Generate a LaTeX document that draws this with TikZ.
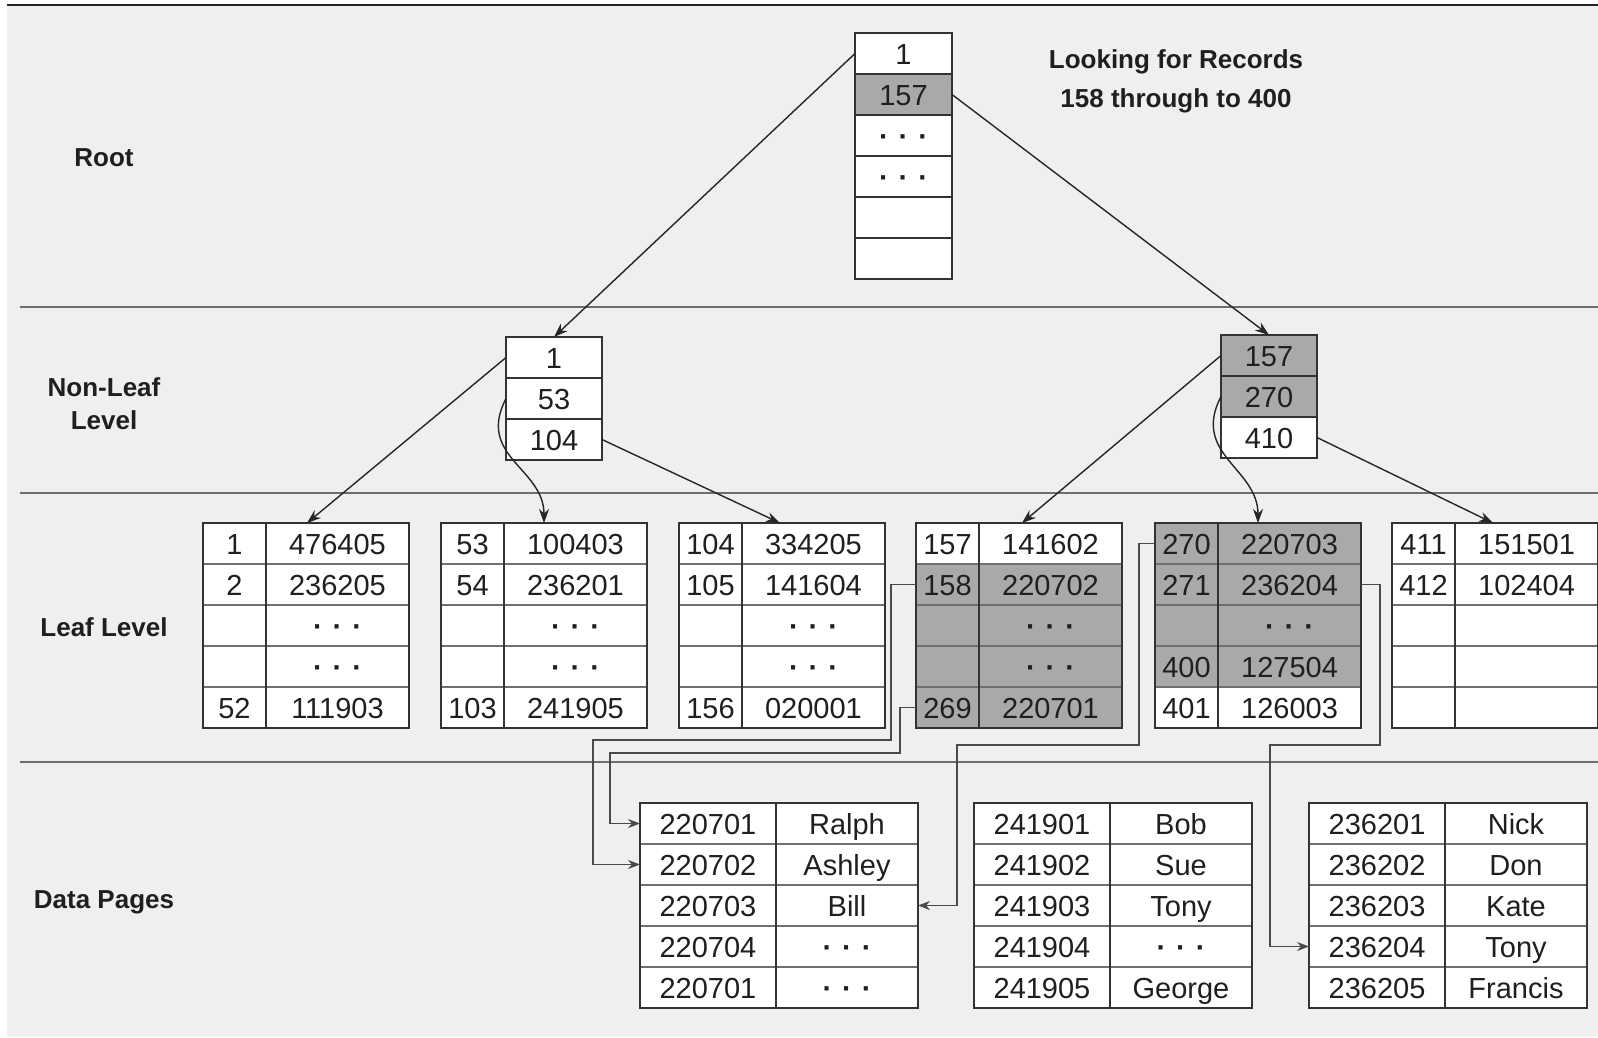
\documentclass[tikz,border=0pt]{standalone}
\usepackage{fontspec}
\setmainfont{Liberation Sans}
\usetikzlibrary{arrows.meta}
\definecolor{bgc}{HTML}{EFEFEF}
\definecolor{hl}{HTML}{A9A9A9}
\definecolor{bord}{HTML}{333333}
\definecolor{rowl}{HTML}{707070}
\definecolor{divl}{HTML}{6E6E6E}
\definecolor{wirec}{HTML}{4A4A4A}
\newcommand\dd{\textbf{·\kern10pt·\kern10pt·}}
\newcommand\leaftab[4]{%
  \foreach \a/\b/\f [count=\i] in {#4}{%
    \node[cellA,fill=\f] (#1-\i-a) at ({#2},{#3+41*(\i-1)}) {\a};
    \node[cellB,fill=\f] (#1-\i-b) at ({#2+63},{#3+41*(\i-1)}) {\b};
  }%
  \draw[outer] (#1-1-a.north west) rectangle (#1-5-b.south east);
  \draw[outer] (#1-1-b.north west) -- (#1-5-b.south west);
}
\newcommand\datatab[4]{%
  \foreach \a/\b [count=\i] in {#4}{%
    \node[cellC] (#1-\i-a) at ({#2},{#3+41*(\i-1)}) {\a};
    \node[cellD] (#1-\i-b) at ({#2+136},{#3+41*(\i-1)}) {\b};
  }%
  \draw[outer] (#1-1-a.north west) rectangle (#1-5-b.south east);
  \draw[outer] (#1-1-b.north west) -- (#1-5-b.south west);
}
\begin{document}
\begin{tikzpicture}[x=1pt,y=-1pt,
  cellbase/.style={draw=rowl, line width=1.2pt, inner sep=0pt, outer sep=0pt,
    anchor=north west, minimum height=41pt, text height=21pt, text depth=0pt,
    font=\fontsize{29}{31}\selectfont, text=black!88, fill=white},
  cellA/.style={cellbase, minimum width=63pt},
  cellB/.style={cellbase, minimum width=143pt},
  cellC/.style={cellbase, minimum width=136pt},
  cellD/.style={cellbase, minimum width=142pt},
  stackcell/.style={cellbase, draw=bord, minimum width=96pt},
  outer/.style={draw=bord, line width=2pt},
  lab/.style={font=\bfseries\fontsize{26}{33}\selectfont, text=black!88, align=center, inner sep=0pt},
  tree/.style={draw=black!85, line width=1.4pt, -{Stealth[length=14pt,width=10pt]}},
  wire/.style={draw=wirec, line width=1.6pt, -{Stealth[length=12pt,width=9pt]}},
  divider/.style={draw=divl, line width=2pt}]
\useasboundingbox (0,0) rectangle (1598,1037);
\fill[bgc] (7,4) rectangle (1598,1037);
\draw[black!85, line width=2pt] (7,4.5) -- (1598,4.5);
\draw[divider] (20,307) -- (1598,307);
\draw[divider] (20,493) -- (1598,493);
\draw[divider] (20,762) -- (1598,762);

% level labels
\node[lab] (lroot) at (104,158) {Root};
\node[lab] (lnonleaf) at (104,404) {Non-Leaf\\Level};
\node[lab] (lleaf) at (104,627) {Leaf Level};
\node[lab] (ldata) at (104,902) {Data Pages};
\node[lab, font=\bfseries\fontsize{26}{39}\selectfont] (note) at (1176,81) {Looking for Records\\158 through to 400};

% root
\foreach \t/\f [count=\i] in {1/white,157/hl,\dd/white,\dd/white,/white,/white}{
  \node[stackcell, minimum width=97pt, fill=\f] (root-\i) at (855,{33+41*(\i-1)}) {\t};
}
\draw[outer] (root-1.north west) rectangle (root-6.south east);

% non-leaf
\foreach \t/\f [count=\i] in {1/white,53/white,104/white}{
  \node[stackcell, fill=\f] (nl-\i) at (506,{337+41*(\i-1)}) {\t};
}
\draw[outer] (nl-1.north west) rectangle (nl-3.south east);
\foreach \t/\f [count=\i] in {157/hl,270/hl,410/white}{
  \node[stackcell, fill=\f] (nr-\i) at (1221,{335+41*(\i-1)}) {\t};
}
\draw[outer] (nr-1.north west) rectangle (nr-3.south east);

% leaf level
\leaftab{t1}{203}{523}{1/476405/white, 2/236205/white, /\dd/white, /\dd/white, 52/111903/white}
\leaftab{t2}{441}{523}{53/100403/white, 54/236201/white, /\dd/white, /\dd/white, 103/241905/white}
\leaftab{t3}{679}{523}{104/334205/white, 105/141604/white, /\dd/white, /\dd/white, 156/020001/white}
\leaftab{t4}{916}{523}{157/141602/white, 158/220702/hl, /\dd/hl, /\dd/hl, 269/220701/hl}
\leaftab{t5}{1155}{523}{270/220703/hl, 271/236204/hl, /\dd/hl, 400/127504/hl, 401/126003/white}
\leaftab{t6}{1392}{523}{411/151501/white, 412/102404/white, //white, //white, //white}

% data pages
\datatab{d1}{640}{803}{220701/Ralph, 220702/Ashley, 220703/Bill, 220704/\dd, 220701/\dd}
\datatab{d2}{974}{803}{241901/Bob, 241902/Sue, 241903/Tony, 241904/\dd, 241905/George}
\datatab{d3}{1309}{803}{236201/Nick, 236202/Don, 236203/Kate, 236204/Tony, 236205/Francis}

% tree connectors
\coordinate (in1) at (307,523);
\coordinate (in2) at (544,523);
\coordinate (in3) at (780,523);
\coordinate (in4) at (1022,523);
\coordinate (in5) at (1258,523);
\coordinate (in6) at (1493,523);
\draw[tree] (root-1.west) -- (nl-1.north);
\draw[tree] (root-2.east) -- (nr-1.north);
\draw[tree] (nl-1.west) -- (in1);
\draw[tree] (nl-2.west) .. controls +(-30,58) and +(0,-55) .. (in2);
\draw[tree] (nl-3.east) -- (in3);
\draw[tree] (nr-1.west) -- (in4);
\draw[tree] (nr-2.west) .. controls +(-30,58) and +(0,-55) .. (in5);
\draw[tree] (nr-3.east) -- (in6);

% data pointers
\coordinate (w1) at (593,740);
\coordinate (w2) at (610,753);
\coordinate (w3) at (957,745);
\coordinate (w4) at (1270,745);
\draw[wire] (t4-2-a.west) -- ++(-25,0) |- (w1) |- (d1-2-a.west);
\draw[wire] (t4-5-a.west) -- ++(-16,0) |- (w2) |- (d1-1-a.west);
\draw[wire] (t5-1-a.west) -- ++(-16,0) |- (w3) |- (d1-3-b.east);
\draw[wire] (t5-2-b.east) -- ++(19,0) |- (w4) |- (d3-4-a.west);
\end{tikzpicture}
\end{document}
